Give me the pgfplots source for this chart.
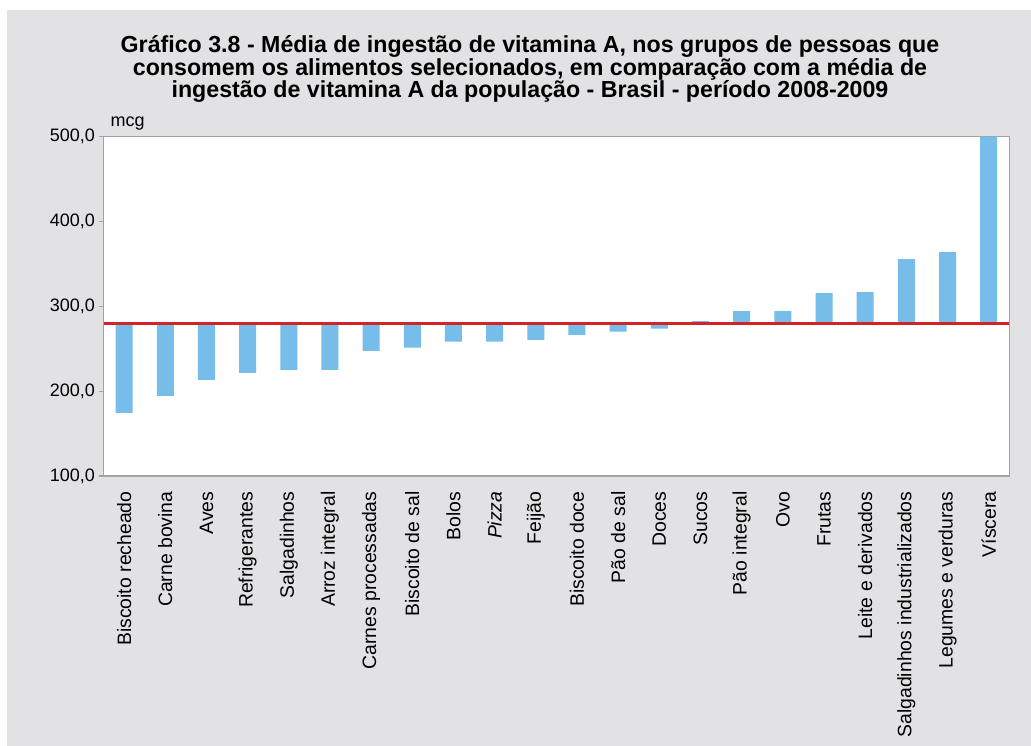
\documentclass[border=0pt]{standalone}
\usepackage{fontspec}
\setmainfont{Liberation Sans}
\usepackage{pgfplots}
\pgfplotsset{compat=1.18}
\usepackage{pgfplotstable}
\definecolor{bg}{RGB}{226,226,228}
\definecolor{barblue}{RGB}{118,189,233}
\definecolor{refred}{RGB}{210,35,42}
\definecolor{axgray}{RGB}{160,162,166}

\pgfplotstableread[col sep=comma]{
x,v
0,174.5
1,194.6
2,213.4
3,221.7
4,225.2
5,225.2
6,247.6
7,251.2
8,258.3
9,258.3
10,260.6
11,266.5
12,270.1
13,273.6
14,282.5
15,294.5
16,294.5
17,315.7
18,316.9
19,355.8
20,364.0
21,500.0
}\data

\begin{document}
\begin{tikzpicture}
\fill[white] (0pt,0pt) rectangle (1031pt,746pt);
\fill[bg] (7pt,0pt) rectangle (1031pt,736pt);
\useasboundingbox (0pt,0pt) rectangle (1031pt,746pt);
\node[font=\fontsize{23.2}{22.8}\selectfont\bfseries, align=center] at (530pt,677pt)
 {Gráfico 3.8 - Média de ingestão de vitamina A, nos grupos de pessoas que\\
  consomem os alimentos selecionados, em comparação com a média de\\
  ingestão de vitamina A da população - Brasil - período 2008-2009};
\begin{axis}[name=ax, at={(103.5pt,270pt)}, anchor=south west,
  scale only axis, width=905.8pt, height=339.3pt,
  xmin=-0.5, xmax=21.5, ymin=100, ymax=500,
  y coord trafo/.code={\pgfmathparse{#1-279.5}},
  y coord inv trafo/.code={\pgfmathparse{#1+279.5}},
  axis background/.style={fill=white},
  axis line style={axgray, line width=1.5pt},
  ytick={100,200,300,400,500},
  yticklabels={{100,0},{200,0},{300,0},{400,0},{500,0}},
  ytick pos=left, tick align=outside, major tick length=5pt,
  ytick style={axgray, line width=1.2pt},
  yticklabel style={font=\fontsize{18}{20}\selectfont},
  xtick={0,...,21},
  xtick style={draw=none},
  xticklabels={Biscoito recheado, Carne bovina, Aves, Refrigerantes, Salgadinhos, Arroz integral, Carnes processadas, Biscoito de sal, Bolos, \textit{Pizza}, Feijão, Biscoito doce, Pão de sal, Doces, Sucos, Pão integral, Ovo, Frutas, Leite e derivados, Salgadinhos industrializados, Legumes e verduras, Víscera},
  xticklabel style={font=\fontsize{19.4}{21}\selectfont, yshift=-7pt, rotate=90, anchor=east},
  clip=true,
]
\addplot[ybar, bar width=17pt, fill=barblue, draw=none] table[x=x, y=v] {\data};
\addplot[refred, line width=2.5pt] coordinates {(-0.5,279.5) (21.5,279.5)};
\end{axis}
\node[anchor=south west, font=\fontsize{18}{20}\selectfont, inner sep=0pt] at ([xshift=7pt, yshift=6pt]ax.north west) {mcg};
\end{tikzpicture}
\end{document}
